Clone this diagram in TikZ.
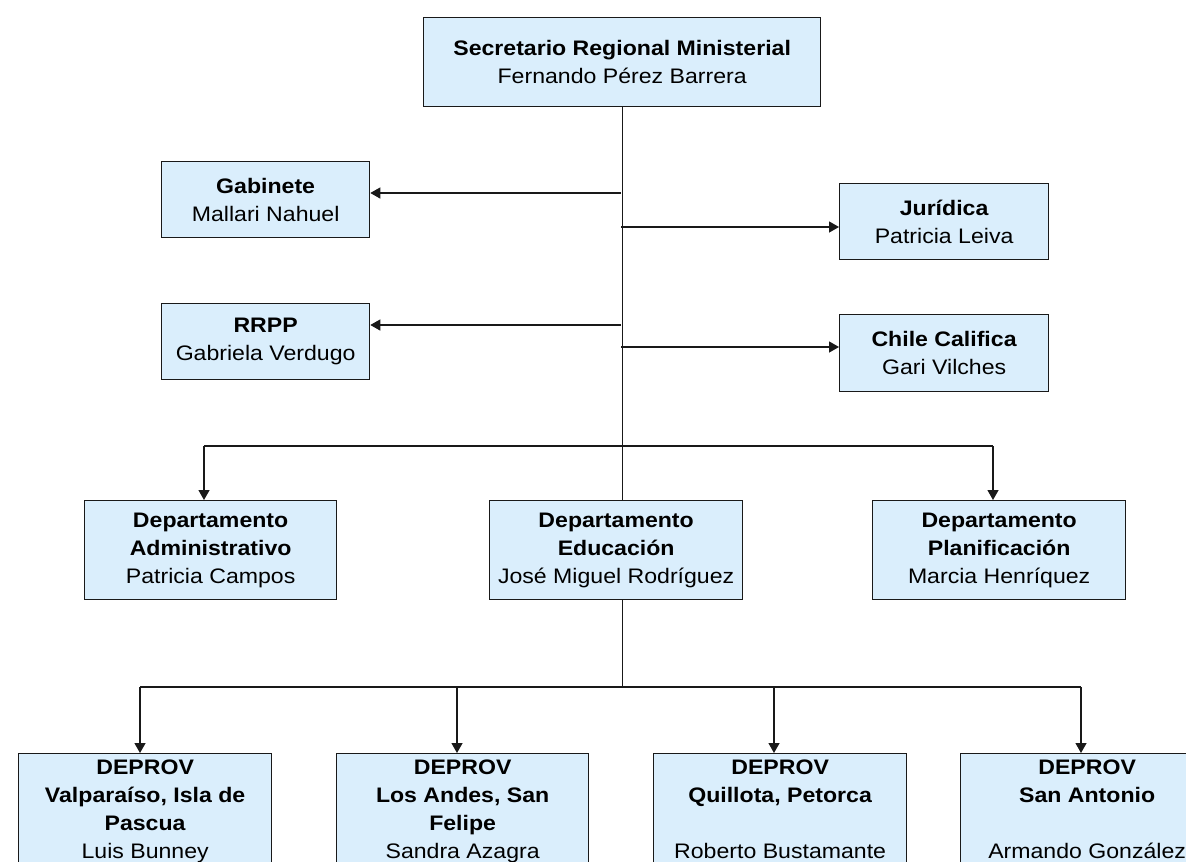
\documentclass[tikz,border=0pt]{standalone}
\usepackage{fontspec}
\setmainfont[FakeStretch=1.1]{Liberation Sans}
\usetikzlibrary{arrows.meta}
\definecolor{boxfill}{RGB}{218,238,252}
\definecolor{linec}{RGB}{25,25,25}
\tikzset{
  orgbox/.style={draw=linec, line width=1.3pt, fill=boxfill, anchor=north west,
    inner sep=1pt, align=center, font=\fontsize{21}{28}\selectfont},
  conn/.style={draw=linec, line width=1.3pt},
  arr/.style={conn, -{Triangle[length=10pt,width=11pt]}}
}
\begin{document}
\begin{tikzpicture}[x=1pt,y=-1pt]
\clip (0,0) rectangle (1186,862);
\fill[white] (0,0) rectangle (1186,862);
% top
\node[orgbox, minimum width=397pt, minimum height=89pt] (sec) at (423,17)
  {\textbf{Secretario Regional Ministerial}\\Fernando Pérez Barrera};
% staff
\node[orgbox, minimum width=208pt, minimum height=76pt] (gab) at (161,161)
  {\textbf{Gabinete}\\Mallari Nahuel};
\node[orgbox, minimum width=208pt, minimum height=76pt] (rrpp) at (161,303)
  {\textbf{RRPP}\\Gabriela Verdugo};
\node[orgbox, minimum width=209pt, minimum height=76pt] (jur) at (839,183)
  {\textbf{Jurídica}\\Patricia Leiva};
\node[orgbox, minimum width=209pt, minimum height=77pt] (chi) at (839,314)
  {\textbf{Chile Califica}\\Gari Vilches};
% departments
\node[orgbox, minimum width=252pt, minimum height=99pt] (adm) at (84,500)
  {\textbf{Departamento}\\\textbf{Administrativo}\\Patricia Campos};
\node[orgbox, minimum width=253pt, minimum height=99pt] (edu) at (489,500)
  {\textbf{Departamento}\\\textbf{Educación}\\José Miguel Rodríguez};
\node[orgbox, minimum width=253pt, minimum height=99pt] (pla) at (872,500)
  {\textbf{Departamento}\\\textbf{Planificación}\\Marcia Henríquez};
% deprov
\node[orgbox, minimum width=253pt, minimum height=116pt] (p1) at (18,753)
  {\textbf{DEPROV}\\\textbf{Valparaíso, Isla de}\\\textbf{Pascua}\\Luis Bunney};
\node[orgbox, minimum width=252pt, minimum height=116pt] (p2) at (336,753)
  {\textbf{DEPROV}\\\textbf{Los Andes, San}\\\textbf{Felipe}\\Sandra Azagra};
\node[orgbox, minimum width=253pt, minimum height=112pt] (p3) at (653,753)
  {\textbf{DEPROV}\\\textbf{Quillota, Petorca}\\\mbox{}\\Roberto Bustamante};
\node[orgbox, minimum width=253pt, minimum height=112pt] (p4) at (960,753)
  {\textbf{DEPROV}\\\textbf{San Antonio}\\\mbox{}\\Armando González};
% trunk coordinates
\coordinate (tg) at (621,193);
\coordinate (tj) at (621,227);
\coordinate (tr) at (621,325);
\coordinate (tc) at (621,347);
\coordinate (hL) at (204,446);
\coordinate (hR) at (993,446);
\coordinate (d1) at (140,687);
\coordinate (d2) at (457,687);
\coordinate (d3) at (774,687);
\coordinate (d4) at (1081,687);
% connectors
\draw[conn] (sec.south) -- (sec.south |- edu.north);
\draw[arr] (tg) -- (tg -| gab.east);
\draw[arr] (tj) -- (tj -| jur.west);
\draw[arr] (tr) -- (tr -| rrpp.east);
\draw[arr] (tc) -- (tc -| chi.west);
\draw[conn] (hL) -- (hR);
\draw[arr] (hL) -- (hL |- adm.north);
\draw[arr] (hR) -- (hR |- pla.north);
\draw[conn] (sec.south |- edu.south) -- (sec.south |- d1);
\draw[conn] (d1) -- (d4);
\draw[arr] (d1) -- (d1 |- p1.north);
\draw[arr] (d2) -- (d2 |- p2.north);
\draw[arr] (d3) -- (d3 |- p3.north);
\draw[arr] (d4) -- (d4 |- p4.north);
\end{tikzpicture}
\end{document}
